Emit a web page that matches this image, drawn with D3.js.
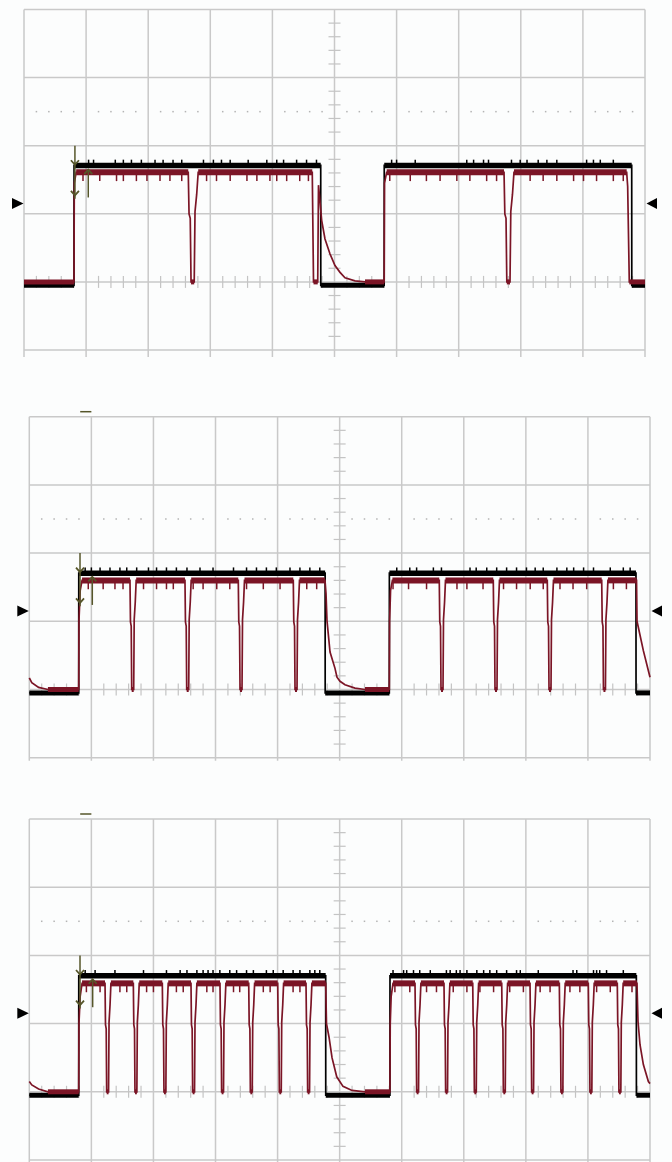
<!DOCTYPE html>
<html>
<head>
<meta charset="utf-8">
<script src="https://cdn.jsdelivr.net/npm/d3@7"></script>
<style>
  html, body { margin: 0; padding: 0; background: #fcfdfd; }
  svg { display: block; }
</style>
</head>
<body>
<div id="chart"></div>
<script>
// Scope screen: 10 horizontal divisions, 5 vertical (-1 .. 4), baseline at 0
const gridX = [0, 1, 2, 3, 4, 5, 6, 7, 8, 9, 10];
const gridY = [-1, 0, 1, 2, 3, 4];
const dottedLevel = 2.5;
const triggerLevel = 1.15;

// Dip shape for the red trace: [fraction of dip width, fraction of high level]
const dipShape = [[0, 1], [0.08, 0.62], [0.2, 0.58], [0.28, 0], [0.6, 0], [0.68, 0.64], [0.85, 0.8], [1, 1]];

// ---- Panel 1 (2 dips per pulse) ----
const p1BlackHigh = 1.71;
const p1RedHigh = 1.61;
const p1Black = [[0, -0.05], [0.805, -0.05], [0.806, p1BlackHigh], [4.778, p1BlackHigh], [4.779, -0.05],
  [5.80, -0.05], [5.801, p1BlackHigh], [9.786, p1BlackHigh], [9.787, -0.05], [10, -0.05]];
const p1Red = [[0, 0], [0.805, 0], [0.81, 1.45], [0.84, p1RedHigh], [4.642, p1RedHigh], [4.662, 0], [4.73, 0],
  [4.742, 1.42], [4.794, 0.9], [4.847, 0.63], [4.928, 0.41], [5.008, 0.24], [5.089, 0.14], [5.169, 0.06],
  [5.33, 0.015], [5.491, 0], [5.80, 0], [5.805, 1.45], [5.84, p1RedHigh], [9.705, p1RedHigh], [9.721, 1.4],
  [9.747, 0], [10, 0]];
const p1Dips = [2.645, 7.73];
const p1DipWidth = 0.16;
const p1BlackSpikes = [1.04, 1.12, 1.47, 1.60, 1.73, 1.89, 2.11, 2.24, 2.40, 2.54, 2.89, 3.05, 3.18, 3.32, 3.61,
  3.91, 4.07, 4.18, 4.39, 4.55, 4.71, 5.92, 6.00, 6.30, 7.13, 7.24, 7.40, 7.48, 7.85, 7.99, 8.10, 8.28, 8.42,
  8.58, 9.06, 9.17, 9.28, 9.49];
const p1RedSpikes = [0.95, 1.22, 1.49, 1.60, 1.81, 1.98, 2.19, 2.35, 2.54, 2.94, 3.10, 3.32, 3.59, 3.75, 3.96,
  4.07, 4.23, 4.44, 4.58, 5.89, 6.22, 6.48, 6.70, 6.97, 7.18, 7.45, 7.61, 8.15, 8.36, 8.58, 8.85, 9.01, 9.22, 9.49, 9.65];
const p1Cursor = { down: 0.82, up: 1.035 };

// ---- Panel 2 (4 dips per pulse) ----
const p2BlackHigh = 1.705;
const p2RedHigh = 1.6;
const p2Black = [[0, -0.05], [0.796, -0.05], [0.797, p2BlackHigh], [4.766, p2BlackHigh], [4.767, -0.05],
  [5.80, -0.05], [5.801, p2BlackHigh], [9.774, p2BlackHigh], [9.775, -0.05], [10, -0.05]];
const p2Red = [[0, 0.17], [0.04, 0.1], [0.15, 0.03], [0.3, 0], [0.796, 0], [0.80, 1.0], [0.82, 1.45], [0.85, p2RedHigh],
  [4.764, p2RedHigh], [4.78, 1.41], [4.796, 1.01], [4.845, 0.55], [4.925, 0.31], [4.957, 0.18], [5.006, 0.12],
  [5.086, 0.07], [5.247, 0.02], [5.408, 0], [5.80, 0], [5.805, 1.0], [5.82, 1.45], [5.85, p2RedHigh],
  [9.783, p2RedHigh], [9.791, 1.0], [9.893, 0.57], [10, 0.18]];
const p2Dips = [1.622, 2.508, 3.367, 4.253, 6.605, 7.475, 8.345, 9.222];
const p2DipWidth = 0.1;
const p2BlackSpikes = [0.90, 1.00, 1.14, 1.30, 1.46, 1.57, 1.73, 1.92, 2.05, 2.21, 2.37, 2.54, 2.75, 2.96, 3.29,
  3.50, 3.66, 3.82, 3.98, 4.20, 4.36, 4.52, 4.68, 5.92, 6.13, 6.24, 6.51, 6.64, 7.10, 7.20, 7.37, 7.53, 7.69,
  7.85, 8.01, 8.15, 8.28, 8.50, 8.66, 8.77, 8.93, 9.09, 9.36, 9.57, 9.68];
const p2RedSpikes = [0.95, 1.19, 1.38, 1.51, 1.84, 2.05, 2.21, 2.32, 2.64, 2.80, 3.02, 3.23, 3.50, 3.77, 4.04,
  4.47, 4.63, 5.86, 6.11, 6.40, 6.89, 7.05, 7.31, 7.64, 7.85, 8.07, 8.28, 8.55, 8.76, 8.98, 9.41, 9.62];
const p2Cursor = { down: 0.817, up: 1.015 };

// ---- Panel 3 (8 dips per pulse) ----
const p3BlackHigh = 1.70;
const p3RedHigh = 1.59;
const p3Black = [[0, -0.05], [0.796, -0.05], [0.797, p3BlackHigh], [4.775, p3BlackHigh], [4.776, -0.05],
  [5.81, -0.05], [5.811, p3BlackHigh], [9.78, p3BlackHigh], [9.781, -0.05], [10, -0.05]];
const p3Red = [[0, 0.15], [0.04, 0.1], [0.15, 0.04], [0.3, 0], [0.796, 0], [0.80, 1.0], [0.82, 1.4], [0.85, p3RedHigh],
  [4.775, p3RedHigh], [4.788, 1.0], [4.829, 0.8], [4.877, 0.5], [4.953, 0.22], [5.054, 0.08], [5.199, 0.02],
  [5.408, 0], [5.81, 0], [5.815, 1.0], [5.83, 1.4], [5.86, p3RedHigh], [9.79, p3RedHigh], [9.807, 1.03],
  [9.839, 0.69], [9.893, 0.4], [9.974, 0.15], [10, 0.12]];
const p3Dips = [1.22, 1.676, 2.143, 2.605, 3.072, 3.535, 4.002, 4.458,
  6.214, 6.681, 7.144, 7.611, 8.067, 8.539, 9.006, 9.473];
const p3DipWidth = 0.095;
const p3BlackSpikes = [0.90, 1.06, 1.38, 1.84, 2.21, 2.43, 2.54, 2.70, 2.80, 2.88, 2.96, 3.07, 3.23, 3.34, 3.50,
  3.61, 3.82, 3.93, 4.09, 4.25, 4.36, 4.52, 4.60, 4.68, 5.86, 6.03, 6.08, 6.19, 6.29, 6.46, 6.72, 6.78, 6.88,
  6.94, 7.05, 7.21, 7.32, 7.42, 7.53, 7.69, 7.85, 7.91, 8.20, 8.76, 8.82, 9.09, 9.14, 9.19, 9.30, 9.57];
const p3RedSpikes = [0.92, 1.14, 1.46, 1.57, 1.89, 2.00, 2.37, 2.48, 2.86, 2.96, 3.29, 3.39, 3.77, 3.88, 4.25,
  4.36, 5.89, 6.13, 6.40, 6.56, 6.83, 7.05, 7.26, 7.48, 7.74, 7.96, 8.23, 8.39, 8.71, 8.87, 9.14, 9.36, 9.57, 9.71];
const p3Cursor = { down: 0.817, up: 1.021 };

// Screen placement of each panel
const panels = [
  { left: 24, top: 9.5, width: 621, height: 340.5, ext: 7, tag: false,
    black: p1Black, blackHigh: p1BlackHigh, red: p1Red, redHigh: p1RedHigh, dips: p1Dips, dipWidth: p1DipWidth,
    blackSpikes: p1BlackSpikes, redSpikes: p1RedSpikes, cursor: p1Cursor },
  { left: 29.3, top: 416.7, width: 620.7, height: 341, ext: 3, tag: true,
    black: p2Black, blackHigh: p2BlackHigh, red: p2Red, redHigh: p2RedHigh, dips: p2Dips, dipWidth: p2DipWidth,
    blackSpikes: p2BlackSpikes, redSpikes: p2RedSpikes, cursor: p2Cursor },
  { left: 29.3, top: 819, width: 620.7, height: 341, ext: 6, tag: true,
    black: p3Black, blackHigh: p3BlackHigh, red: p3Red, redHigh: p3RedHigh, dips: p3Dips, dipWidth: p3DipWidth,
    blackSpikes: p3BlackSpikes, redSpikes: p3RedSpikes, cursor: p3Cursor }
];

const colors = {
  bg: '#fcfdfd',
  grid: '#c9c9c9',
  tick: '#c4c4c4',
  dot: '#b4b4b4',
  black: '#000000',
  red: '#7b1526',
  cursor: '#56562a',
  marker: '#000000'
};

const svg = d3.select('#chart')
  .append('svg')
  .attr('width', 672)
  .attr('height', 1162);

svg.append('rect').attr('width', 672).attr('height', 1162).attr('fill', colors.bg);

/**
 * Insert the red dips into the base waveform
 */
function withDips(base, dips, width, high) {
  const pts = base.slice();
  dips.forEach(t0 => {
    dipShape.forEach(([f, k]) => pts.push([t0 + f * width, k * high]));
  });
  return pts.sort((a, b) => a[0] - b[0]);
}

/**
 * Draw one trace: thin outline, thick band on flat parts, noise spikes
 */
function drawTrace(g, x, y, pts, color, high, spikes, spikeDir, skipRanges, bandHigh, bandLow) {
  const line = d3.line().x(d => x(d[0])).y(d => y(d[1]));

  // thick bands over flat stretches
  for (let i = 1; i < pts.length; i++) {
    const a = pts[i - 1], b = pts[i];
    if (Math.abs(a[1] - b[1]) < 1e-9 && b[0] - a[0] > 0.03) {
      g.append('line')
        .attr('x1', x(a[0])).attr('x2', x(b[0]))
        .attr('y1', y(a[1])).attr('y2', y(b[1]))
        .attr('stroke', color)
        .attr('stroke-width', a[1] > 1 ? bandHigh : bandLow);
    }
  }

  g.append('path')
    .attr('d', line(pts))
    .attr('fill', 'none')
    .attr('stroke', color)
    .attr('stroke-width', 1.7)
    .attr('stroke-linejoin', 'miter');

  // noise spikes
  spikes.filter(t => !skipRanges.some(([s, e]) => t > s - 0.02 && t < e + 0.02)).forEach(t => {
    g.append('line')
      .attr('x1', x(t)).attr('x2', x(t))
      .attr('y1', y(high))
      .attr('y2', y(high + spikeDir))
      .attr('stroke', color)
      .attr('stroke-width', 1.5);
  });
}

/**
 * Small cursor arrow head ("v" when pointing down, "^" up)
 */
function arrowHead(g, cx, cy, dir) {
  g.append('path')
    .attr('d', `M${cx - 4},${cy - 4.5 * dir}L${cx},${cy}L${cx + 4},${cy - 4.5 * dir}`)
    .attr('fill', 'none')
    .attr('stroke', colors.cursor)
    .attr('stroke-width', 1.8);
}

panels.forEach(p => {
  const x = d3.scaleLinear().domain([0, 10]).range([p.left, p.left + p.width]);
  const y = d3.scaleLinear().domain([-1, 4]).range([p.top + p.height, p.top]);
  const g = svg.append('g');

  // grid
  g.selectAll('.vgrid')
    .data(gridX)
    .enter()
    .append('line')
    .attr('x1', d => x(d)).attr('x2', d => x(d))
    .attr('y1', y(4)).attr('y2', y(-1) + p.ext)
    .attr('stroke', colors.grid)
    .attr('stroke-width', 1.5);

  g.selectAll('.hgrid')
    .data(gridY)
    .enter()
    .append('line')
    .attr('x1', x(0)).attr('x2', x(10))
    .attr('y1', d => y(d)).attr('y2', d => y(d))
    .attr('stroke', colors.grid)
    .attr('stroke-width', 1.5);

  // minor ticks on the centre column and on the baseline
  const minorY = d3.range(-1, 4.001, 0.2).filter(v => Math.abs(v - Math.round(v)) > 0.01);
  const minorX = d3.range(0, 10.001, 0.2).filter(v => Math.abs(v - Math.round(v)) > 0.01);

  g.selectAll('.ctick')
    .data(minorY)
    .enter()
    .append('line')
    .attr('x1', x(5) - 6).attr('x2', x(5) + 6)
    .attr('y1', d => y(d)).attr('y2', d => y(d))
    .attr('stroke', colors.tick)
    .attr('stroke-width', 1.2);

  g.selectAll('.btick')
    .data(minorX)
    .enter()
    .append('line')
    .attr('x1', d => x(d)).attr('x2', d => x(d))
    .attr('y1', y(0) - 6).attr('y2', y(0) + 6)
    .attr('stroke', colors.tick)
    .attr('stroke-width', 1.2);

  // dotted reference level
  g.selectAll('.dot')
    .data(minorX)
    .enter()
    .append('rect')
    .attr('x', d => x(d) - 0.75)
    .attr('y', y(dottedLevel) - 0.75)
    .attr('width', 1.5).attr('height', 1.5)
    .attr('fill', colors.dot);

  // traces
  const dipRanges = p.dips.map(t => [t, t + p.dipWidth]);
  drawTrace(g, x, y, p.black, colors.black, p.blackHigh, p.blackSpikes, 0.085, [], 5.5, 5);
  const redPts = withDips(p.red, p.dips, p.dipWidth, p.redHigh);
  drawTrace(g, x, y, redPts, colors.red, p.redHigh, p.redSpikes, -0.13, dipRanges, 6, 5);

  // cursors
  const cd = p.cursor.down;
  g.append('line')
    .attr('x1', x(cd)).attr('x2', x(cd))
    .attr('y1', y(2.0)).attr('y2', y(1.22))
    .attr('stroke', colors.cursor).attr('stroke-width', 1.5);
  arrowHead(g, x(cd), y(1.72), 1);
  arrowHead(g, x(cd), y(1.27), 1);

  const cu = p.cursor.up;
  g.append('line')
    .attr('x1', x(cu)).attr('x2', x(cu))
    .attr('y1', y(1.24)).attr('y2', y(1.65))
    .attr('stroke', colors.cursor).attr('stroke-width', 1.5);
  arrowHead(g, x(cu), y(1.65), -1);

  if (p.tag) {
    g.append('line')
      .attr('x1', x(0.82)).attr('x2', x(1.0))
      .attr('y1', y(4) - 5).attr('y2', y(4) - 5)
      .attr('stroke', colors.cursor).attr('stroke-width', 1.5);
  }

  // trigger level markers
  const ty = y(triggerLevel);
  g.append('path')
    .attr('d', `M${x(0) - 12},${ty - 5.5}L${x(0) - 0.5},${ty}L${x(0) - 12},${ty + 5.5}Z`)
    .attr('fill', colors.marker);
  g.append('path')
    .attr('d', `M${x(10) + 12},${ty - 5.5}L${x(10) + 1.5},${ty}L${x(10) + 12},${ty + 5.5}Z`)
    .attr('fill', colors.marker);
});
</script>
</body>
</html>
